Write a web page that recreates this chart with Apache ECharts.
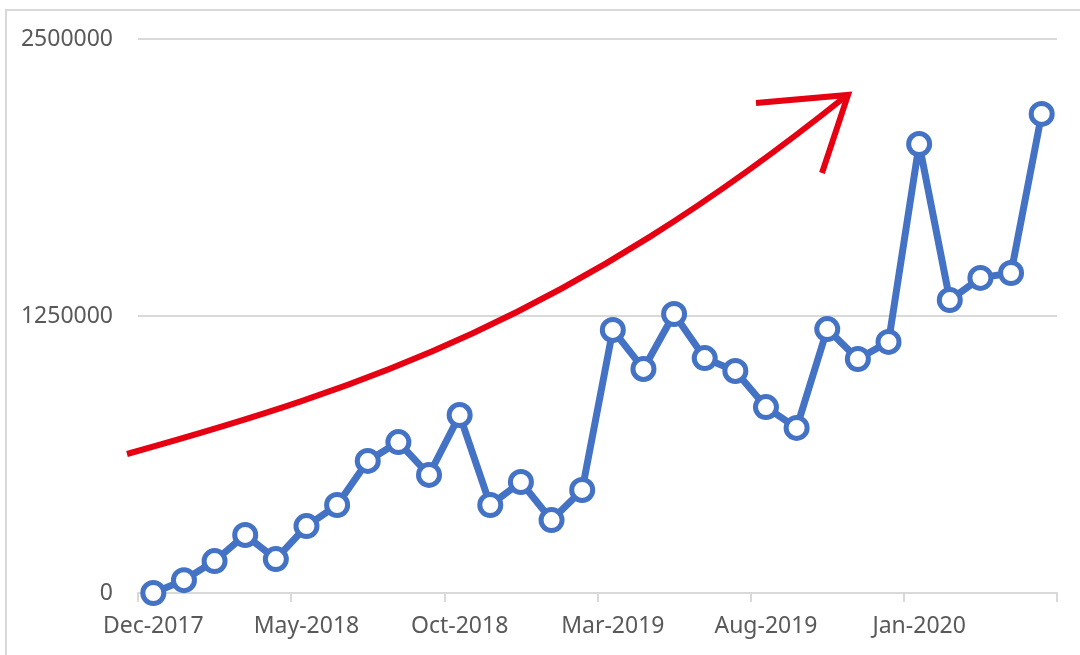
<!DOCTYPE html>
<html>
<head>
<meta charset="utf-8">
<script src="https://cdn.jsdelivr.net/npm/echarts@6/dist/echarts.min.js"></script>
<style>html,body{margin:0;padding:0;background:#fff;}#c{width:1080px;height:655px;}</style>
</head>
<body>
<div id="c"></div>
<script>
var categories = ["Dec-2017","Jan-2018","Feb-2018","Mar-2018","Apr-2018","May-2018","Jun-2018","Jul-2018","Aug-2018","Sep-2018","Oct-2018","Nov-2018","Dec-2018","Jan-2019","Feb-2019","Mar-2019","Apr-2019","May-2019","Jun-2019","Jul-2019","Aug-2019","Sep-2019","Oct-2019","Nov-2019","Dec-2019","Jan-2020","Feb-2020","Mar-2020","Apr-2020","May-2020"];
var values = [0,58000,144000,262000,153000,302000,397000,596000,681000,533000,803000,397000,501000,329000,465000,1187000,1011000,1259000,1060000,1002000,839000,745000,1191000,1056000,1133000,2026000,1322000,1422000,1444000,2162000];
var yTicks = [0,1250000,2500000];

var chart = echarts.init(document.getElementById('c'), null, {renderer:'canvas'});
var font = '"Noto Sans", "Open Sans", sans-serif';
chart.setOption({
  animation:false,
  backgroundColor:'#fff',
  grid:{left:138,right:23,top:39,bottom:62,containLabel:false},
  xAxis:{
    type:'category',
    data:categories,
    boundaryGap:true,
    axisLine:{show:true,lineStyle:{color:'#d9d9d9',width:2}},
    axisTick:{show:true,interval:4,length:9,lineStyle:{color:'#d9d9d9',width:2}},
    axisLabel:{interval:4,color:'#595959',fontSize:23,fontFamily:font,margin:22},
    splitLine:{show:false}
  },
  yAxis:{
    type:'value',
    min:yTicks[0],max:yTicks[2],interval:yTicks[1]-yTicks[0],
    axisLine:{show:false},axisTick:{show:false},
    axisLabel:{color:'#595959',fontSize:23,fontFamily:font,margin:25,formatter:function(v){return String(v);}},
    splitLine:{lineStyle:{color:'#d9d9d9',width:2}}
  },
  series:[{
    type:'line',
    data:values,
    symbol:'circle',
    symbolSize:21,
    showAllSymbol:true,
    lineStyle:{color:'#4472C4',width:7},
    itemStyle:{color:'#fff',borderColor:'#4472C4',borderWidth:5},
    z:3
  }],
  graphic:[
    {type:'rect',shape:{x:6,y:10,width:1200,height:800},style:{fill:'none',stroke:'#d9d9d9',lineWidth:2},silent:true,z:-1},
    {type:'bezierCurve',shape:{x1:127,y1:454,cpx1:367,cpy1:387,cpx2:568,cpy2:319,x2:846,y2:96},style:{fill:'none',stroke:'#E60012',lineWidth:6},z:10},
    {type:'polyline',shape:{points:[[756,103],[848,95],[822,173]]},style:{fill:'none',stroke:'#E60012',lineWidth:6,lineJoin:'miter'},z:10}
  ]
});
</script>
</body>
</html>
